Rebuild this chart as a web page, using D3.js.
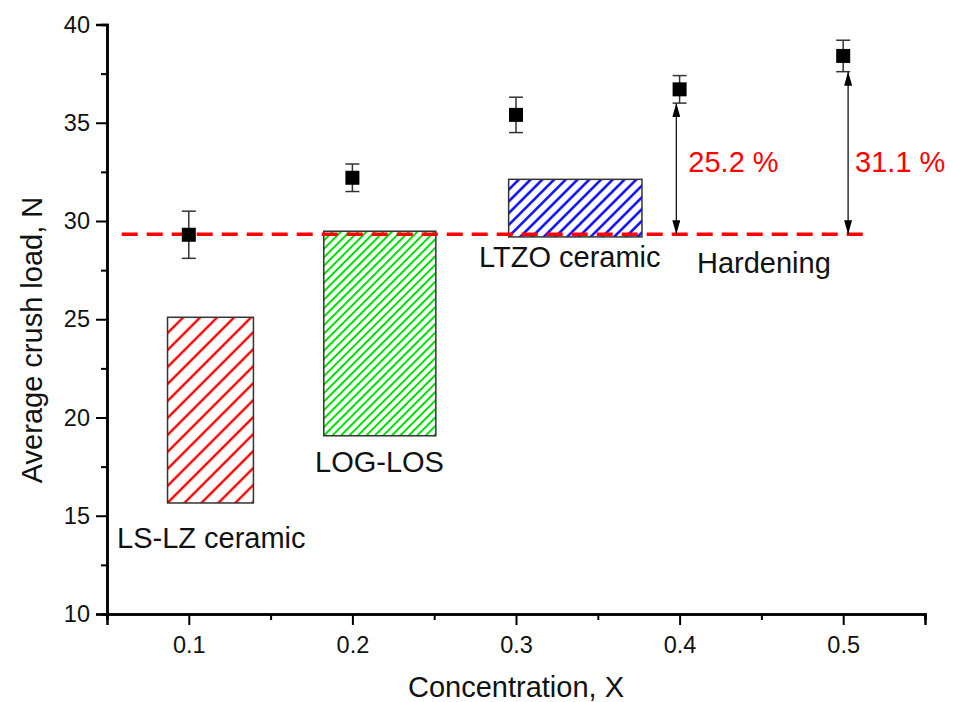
<!DOCTYPE html>
<html>
<head>
<meta charset="utf-8">
<script src="https://cdn.jsdelivr.net/npm/d3@7"></script>
<style>
  body { margin: 0; background: #fff; }
  svg { display: block; font-family: "Liberation Sans", Arial, sans-serif; }
</style>
</head>
<body>
<svg id="chart"></svg>
<script>
// measured points (concentration X -> average crush load, N)
let concentration = [0.1, 0.2, 0.3, 0.4, 0.5];
let crushLoad = [29.3, 32.2, 35.4, 36.7, 38.4];
let errLoad = [1.2, 0.7, 0.9, 0.7, 0.8];

// reference ranges of other ceramics (hatched boxes)
let boxNames = ["LS-LZ ceramic", "LOG-LOS", "LTZO ceramic"];
let boxX0 = [0.087, 0.1825, 0.2955];
let boxX1 = [0.1395, 0.251, 0.377];
let boxLow = [15.65, 19.07, 29.19];
let boxHigh = [25.1, 29.48, 32.12];
let boxColors = ["#ff0000", "#00e000", "#0000ff"];

// baseline (dashed) and hardening arrows
let baseLoad = 29.33;
let baseFrom = 0.059, baseTo = 0.515;
let arrowX = [0.398, 0.503];
let arrowTop = [36.0, 37.6];
let arrowLabels = ["25.2 %", "31.1 %"];

let xTicks = [0.1, 0.2, 0.3, 0.4, 0.5];
let xMinor = [0.05, 0.15, 0.25, 0.35, 0.45, 0.55];
let yTicks = [10, 15, 20, 25, 30, 35, 40];
let yMinor = [12.5, 17.5, 22.5, 27.5, 32.5, 37.5];

let width = 953, height = 702;
let fontBig = "29px";
let svg = d3.select("#chart").attr("width", width).attr("height", height);

let scaleX = d3.scaleLinear().domain([0.05, 0.55]).range([107, 925]);
let scaleY = d3.scaleLinear().domain([10, 40]).range([614, 24.5]);

// hatch patterns
let defs = svg.append("defs");
let hatchStep = [12, 6, 8.3];
let hatchW = [2.4, 2, 2.4];
boxColors.forEach(function(c, i) {
  let p = defs.append("pattern")
    .attr("id", "hatch" + i)
    .attr("patternUnits", "userSpaceOnUse")
    .attr("width", hatchStep[i])
    .attr("height", hatchStep[i])
    .attr("patternTransform", "rotate(45)");
  p.append("line")
    .attr("x1", hatchStep[i] / 2).attr("y1", -1)
    .attr("x2", hatchStep[i] / 2).attr("y2", hatchStep[i] + 1)
    .attr("stroke", c)
    .attr("stroke-width", hatchW[i]);
});

let marker = defs.append("marker")
  .attr("id", "arrow")
  .attr("viewBox", "0 0 14 8")
  .attr("refX", 14).attr("refY", 4)
  .attr("markerWidth", 14).attr("markerHeight", 8)
  .attr("markerUnits", "userSpaceOnUse")
  .attr("orient", "auto-start-reverse");
marker.append("path").attr("d", "M0,0 L14,4 L0,8 Z").attr("fill", "#000");

// boxes
svg.append("g").selectAll("rect")
  .data(boxNames)
  .enter().append("rect")
  .attr("x", (d, i) => scaleX(boxX0[i]))
  .attr("width", (d, i) => scaleX(boxX1[i]) - scaleX(boxX0[i]))
  .attr("y", (d, i) => scaleY(boxHigh[i]))
  .attr("height", (d, i) => scaleY(boxLow[i]) - scaleY(boxHigh[i]))
  .attr("fill", (d, i) => "url(#hatch" + i + ")")
  .attr("stroke", "#333")
  .attr("stroke-width", 1.5);

// dashed baseline
svg.append("line")
  .attr("x1", scaleX(baseFrom)).attr("x2", scaleX(baseTo))
  .attr("y1", scaleY(baseLoad)).attr("y2", scaleY(baseLoad))
  .attr("stroke", "#ff0000")
  .attr("stroke-width", 3.5)
  .attr("stroke-dasharray", "16,9");

// arrows
svg.append("g").selectAll("line")
  .data(arrowX)
  .enter().append("line")
  .attr("x1", d => scaleX(d)).attr("x2", d => scaleX(d))
  .attr("y1", (d, i) => scaleY(arrowTop[i]))
  .attr("y2", scaleY(baseLoad))
  .attr("stroke", "#000")
  .attr("stroke-width", 1.2)
  .attr("marker-start", "url(#arrow)")
  .attr("marker-end", "url(#arrow)");

// error bars
let eb = svg.append("g").attr("stroke", "#333").attr("stroke-width", 1.5);
concentration.forEach(function(x, i) {
  let cx = scaleX(x);
  let yt = scaleY(crushLoad[i] + errLoad[i]);
  let yb = scaleY(crushLoad[i] - errLoad[i]);
  eb.append("line").attr("x1", cx).attr("x2", cx).attr("y1", yt).attr("y2", yb);
  eb.append("line").attr("x1", cx - 7).attr("x2", cx + 7).attr("y1", yt).attr("y2", yt);
  eb.append("line").attr("x1", cx - 7).attr("x2", cx + 7).attr("y1", yb).attr("y2", yb);
});

// points
svg.append("g").selectAll("rect")
  .data(concentration)
  .enter().append("rect")
  .attr("x", d => scaleX(d) - 7)
  .attr("y", (d, i) => scaleY(crushLoad[i]) - 7)
  .attr("width", 14).attr("height", 14)
  .attr("fill", "#000");

// axes
let axisX = d3.axisBottom(scaleX).tickValues(xTicks).tickSize(11).tickPadding(11)
  .tickFormat(d3.format(".1f"));
let axisXm = d3.axisBottom(scaleX).tickValues(xMinor).tickSize(6).tickFormat("");
let axisY = d3.axisLeft(scaleY).tickValues(yTicks).tickSize(11).tickPadding(6);
let axisYm = d3.axisLeft(scaleY).tickValues(yMinor).tickSize(6).tickFormat("");

function styleAxis(g) {
  g.select(".domain").attr("stroke", "#000").attr("stroke-width", 2.5);
  g.selectAll(".tick line").attr("stroke", "#000").attr("stroke-width", 2);
  g.selectAll("text").attr("fill", "#111").style("font-size", "23.5px")
    .style("font-family", "Liberation Sans, Arial, sans-serif");
}

svg.append("g").attr("transform", "translate(0,614)").call(axisXm).call(styleAxis);
svg.append("g").attr("transform", "translate(0,614)").call(axisX).call(styleAxis);
svg.append("g").attr("transform", "translate(107,0)").call(axisYm).call(styleAxis);
svg.append("g").attr("transform", "translate(107,0)").call(axisY).call(styleAxis);

// axis titles
svg.append("text")
  .attr("x", 516).attr("y", 697)
  .attr("text-anchor", "middle")
  .style("font-size", fontBig).attr("fill", "#111")
  .text("Concentration, X");
svg.append("text")
  .attr("transform", "translate(42,340) rotate(-90)")
  .attr("text-anchor", "middle")
  .style("font-size", fontBig).attr("fill", "#111")
  .text("Average crush load, N");

// annotations
let boxLabelX = [117, 315, 479];
let boxLabelY = [548, 472, 267];
svg.append("g").selectAll("text")
  .data(boxNames)
  .enter().append("text")
  .attr("x", (d, i) => boxLabelX[i])
  .attr("y", (d, i) => boxLabelY[i])
  .style("font-size", fontBig).attr("fill", "#111")
  .text(d => d);

svg.append("text")
  .attr("x", 697).attr("y", 273)
  .style("font-size", fontBig).attr("fill", "#111")
  .text("Hardening");

let labelShift = [12, 7];
svg.append("g").selectAll("text")
  .data(arrowLabels)
  .enter().append("text")
  .attr("x", (d, i) => scaleX(arrowX[i]) + labelShift[i])
  .attr("y", 172)
  .style("font-size", fontBig).attr("fill", "#ff0000")
  .text(d => d);
</script>
</body>
</html>
